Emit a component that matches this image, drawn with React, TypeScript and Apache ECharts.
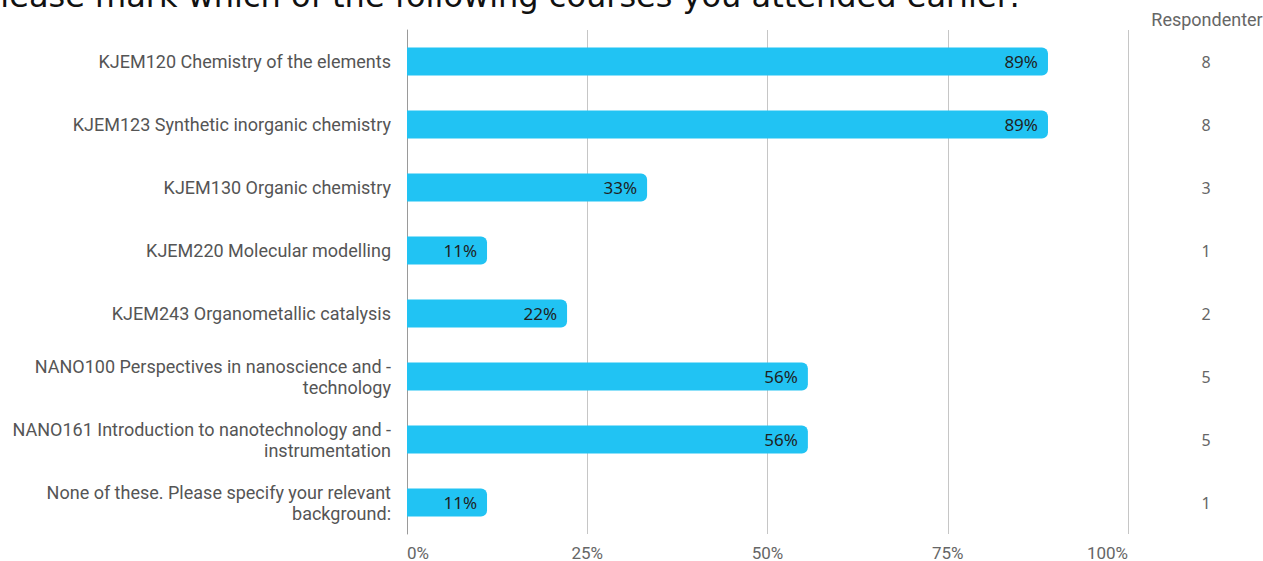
import React, { useEffect, useRef } from "react";
import * as echarts from "echarts";

const titleText = "Please mark which of the following courses you attended earlier:";
const countHeader = "Respondenter";

const categories = [
  "KJEM120 Chemistry of the elements",
  "KJEM123 Synthetic inorganic chemistry",
  "KJEM130 Organic chemistry",
  "KJEM220 Molecular modelling",
  "KJEM243 Organometallic catalysis",
  "NANO100 Perspectives in nanoscience and -\ntechnology",
  "NANO161 Introduction to nanotechnology and -\ninstrumentation",
  "None of these. Please specify your relevant\nbackground:",
];

const percentages = [88.9, 88.9, 33.3, 11.1, 22.2, 55.6, 55.6, 11.1];
const respondents = [8, 8, 3, 1, 2, 5, 5, 1];

const xMin = 0;
const xMax = 100;
const xInterval = 25;

export default function App() {
  const ref = useRef<HTMLDivElement | null>(null);

  useEffect(() => {
    if (!ref.current) return;
    const chart = echarts.init(ref.current, null, { renderer: "svg" });
    chart.setOption({
      animation: false,
      backgroundColor: "#ffffff",
      textStyle: { fontFamily: "Roboto" },
      grid: { left: 407, right: 135, top: 30, bottom: 27, containLabel: false },
      xAxis: {
        type: "value",
        min: xMin,
        max: xMax,
        interval: xInterval,
        axisLine: { show: false },
        axisTick: { show: false },
        splitLine: { show: true, lineStyle: { color: "#c6c6c6", width: 1 } },
        axisLabel: {
          formatter: (v: number) => `${v}%`,
          color: "#666666",
          fontSize: 17,
          fontFamily: "Roboto",
          margin: 10,
          alignMinLabel: "left",
          alignMaxLabel: "right",
        },
      },
      yAxis: [
        {
          type: "category",
          inverse: true,
          data: categories,
          axisLine: { show: true, lineStyle: { color: "#9a9a9a", width: 1 } },
          axisTick: { show: false },
          axisLabel: {
            color: "#555555",
            fontSize: 18,
            lineHeight: 21,
            margin: 16,
            align: "right",
          },
        },
        {
          type: "category",
          inverse: true,
          position: "right",
          data: respondents.map(String),
          axisLine: { show: false },
          axisTick: { show: false },
          axisLabel: {
            color: "#666666",
            fontSize: 16,
            fontFamily: "Noto Sans",
            align: "center",
            margin: 78,
          },
        },
      ],
      series: [
        {
          type: "bar",
          data: percentages,
          barWidth: 28,
          itemStyle: { color: "#21c3f3", borderRadius: [0, 6, 6, 0] },
          label: {
            show: true,
            position: "insideRight",
            distance: 10,
            formatter: (p: any) => `${Math.round(p.value)}%`,
            color: "#1f1f1f",
            fontSize: 17,
            fontFamily: "Noto Sans",
          },
        },
      ],
      graphic: [
        {
          type: "text",
          x: -19,
          y: -4,
          style: {
            text: titleText,
            font: "32px 'DejaVu Sans'",
            fill: "#111111",
            verticalAlign: "middle",
            align: "left",
          },
        },
        {
          type: "text",
          x: 1207,
          y: 19,
          style: {
            text: countHeader,
            font: "18px Roboto",
            fill: "#666666",
            verticalAlign: "middle",
            align: "center",
          },
        },
      ],
    });
    return () => chart.dispose();
  }, []);

  return (
    <div
      ref={ref}
      style={{ position: "absolute", left: 0, top: 0, width: 1263, height: 561 }}
    />
  );
}
